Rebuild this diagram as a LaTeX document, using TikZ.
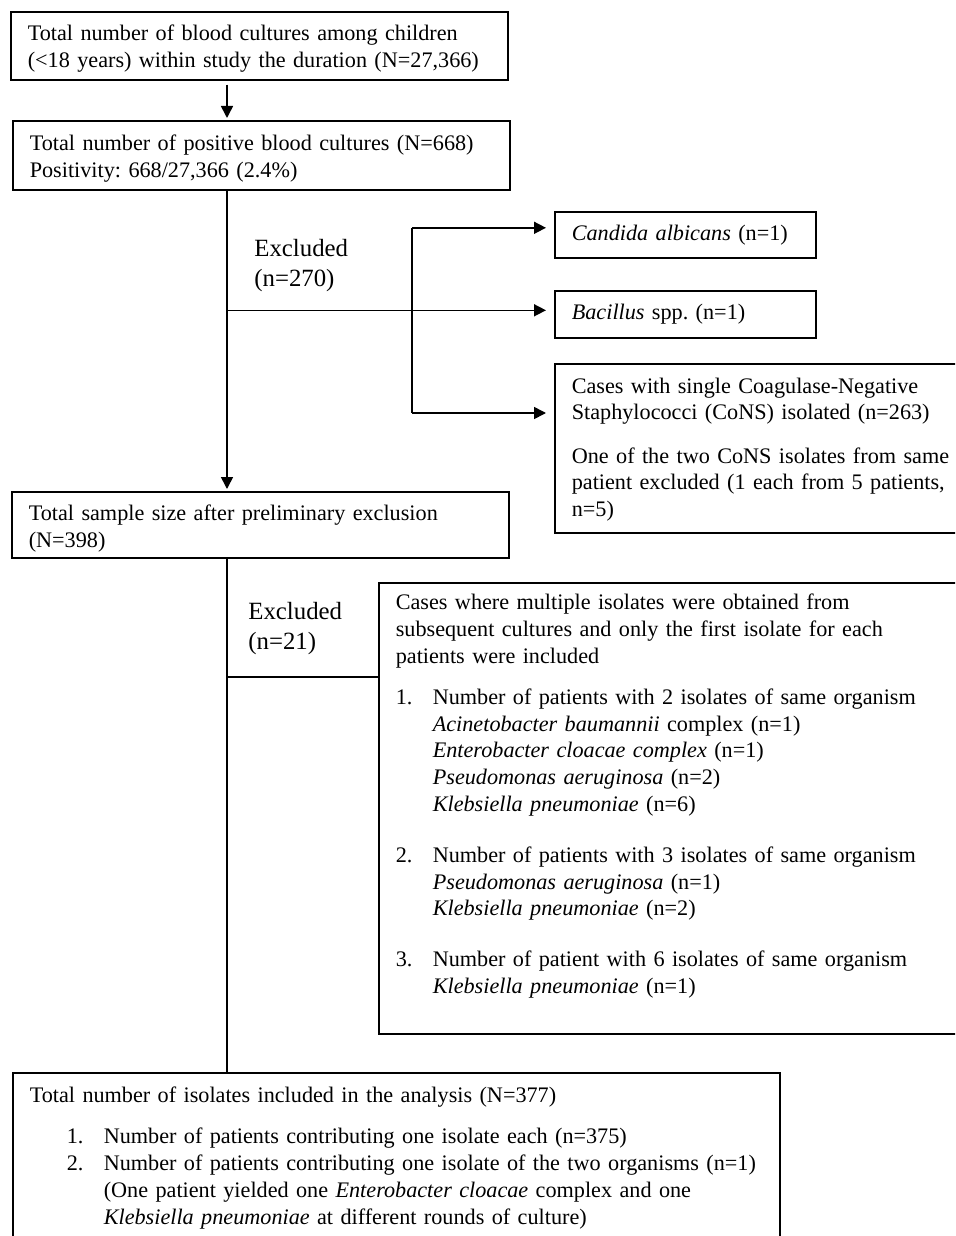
\documentclass[tikz,border=0pt]{standalone}
\usepackage{fontspec}
\setmainfont{Liberation Serif}
\usetikzlibrary{arrows.meta}
\newcommand\boxfont{\fontsize{11.1pt}{13.4pt}\selectfont\frenchspacing}
\newcommand\exclfont{\fontsize{12.4pt}{15pt}\selectfont}
\newcommand\itemno[1]{\makebox[18.5pt][l]{#1}}
\newcommand\listind{\hspace*{18.5pt}}
\tikzset{
  flowbox/.style={draw, line width=0.8pt, anchor=north west, align=left,
    inner xsep=8.5pt, inner ysep=0pt, font=\boxfont},
  exclnote/.style={anchor=north west, align=left, inner sep=0pt, font=\exclfont},
  link/.style={line width=0.8pt},
  flowarrow/.style={link, -{Triangle[length=6pt,width=6pt]}},
}

\begin{document}
\begin{tikzpicture}[x=0.5pt, y=-0.5pt]
\useasboundingbox (0,0) rectangle (955,1236);
\clip (0,0) rectangle (955,1236);

% main column
\node[flowbox, text width=231.5pt, text height=14.5pt, text depth=19.5pt] (total) at (10,11)
  {Total number of blood cultures among children\\
   \mbox{(<18 years) within study the duration (N=27,366)}};
\node[flowbox, text width=231.5pt, text height=15pt, text depth=19.5pt] (positive) at (12,120)
  {Total number of positive blood cultures (N=668)\\
   Positivity: 668/27,366 (2.4\%)};
\node[flowbox, text width=231.5pt, text height=14.5pt, text depth=18.5pt] (prelim) at (11,491)
  {Total sample size after preliminary exclusion\\
   (N=398)};
\node[flowbox, text width=366.5pt, text height=15pt, text depth=90pt] (final) at (12,1072)
  {Total number of isolates included in the analysis (N=377)\\[7pt]
   \listind\itemno{1.}Number of patients contributing one isolate each (n=375)\\
   \listind\itemno{2.}\mbox{Number of patients contributing one isolate of the two organisms (n=1)}\\
   \listind\listind(One patient yielded one \textit{Enterobacter cloacae} complex and one\\
   \listind\listind\textit{Klebsiella pneumoniae} at different rounds of culture)};

% first exclusion
\node[flowbox, text width=113.5pt, text height=14.5pt, text depth=8.5pt] (candida) at (554,211)
  {\textit{Candida albicans} (n=1)};
\node[flowbox, text width=113.5pt, text height=14.5pt, text depth=9pt] (bacillus) at (554,290)
  {\textit{Bacillus} spp. (n=1)};
\node[flowbox, text width=193.5pt, text height=15pt, text depth=69.5pt] (cons) at (554,363)
  {\fontsize{11.1pt}{13pt}\selectfont
   Cases with single Coagulase-Negative\\
   Staphylococci (CoNS) isolated (n=263)\\[9pt]
   One of the two CoNS isolates from same\\
   patient excluded (1 each from 5 patients,\\
   n=5)};
\node[exclnote] (excl1) at (254,239) {Excluded\\(n=270)};

% second exclusion
\node[flowbox, text width=281.5pt, text height=13.5pt, text depth=212pt] (multi) at (378,582)
  {Cases where multiple isolates were obtained from\\
   subsequent cultures and only the first isolate for each\\
   patients were included\\[7pt]
   \itemno{1.}Number of patients with 2 isolates of same organism\\
   \listind\textit{Acinetobacter baumannii} complex (n=1)\\
   \listind\textit{Enterobacter cloacae complex} (n=1)\\
   \listind\textit{Pseudomonas aeruginosa} (n=2)\\
   \listind\textit{Klebsiella pneumoniae} (n=6)\\[12pt]
   \itemno{2.}Number of patients with 3 isolates of same organism\\
   \listind\textit{Pseudomonas aeruginosa} (n=1)\\
   \listind\textit{Klebsiella pneumoniae} (n=2)\\[12pt]
   \itemno{3.}Number of patient with 6 isolates of same organism\\
   \listind\textit{Klebsiella pneumoniae} (n=1)};
\node[exclnote] (excl2) at (248,602) {Excluded\\(n=21)};

% connectors
\coordinate (spine) at (227,0);
\coordinate (brk) at (412,0);
\draw[flowarrow, shorten <=2pt, shorten >=1pt] (total.south -| spine) -- (positive.north -| spine);
\draw[flowarrow, shorten >=1pt] (positive.south -| spine) -- (prelim.north -| spine);
\draw[link] (prelim.south -| spine) -- (final.north -| spine);

\coordinate (armA) at ([yshift=3.5pt]candida.west);
\coordinate (armB) at ([yshift=2pt]bacillus.west);
\coordinate (armC) at ([yshift=-25pt]cons.north west);
\draw[link] (armB -| spine) -- (armB -| brk);
\draw[link] (armA -| brk) -- (armC -| brk);
\foreach \arm in {armA,armB,armC}
  \draw[flowarrow, shorten >=4pt] (\arm -| brk) -- (\arm);

\coordinate (armD) at ([yshift=-47.5pt]multi.north west);
\draw[link] (armD -| spine) -- (armD);
\end{tikzpicture}
\end{document}
